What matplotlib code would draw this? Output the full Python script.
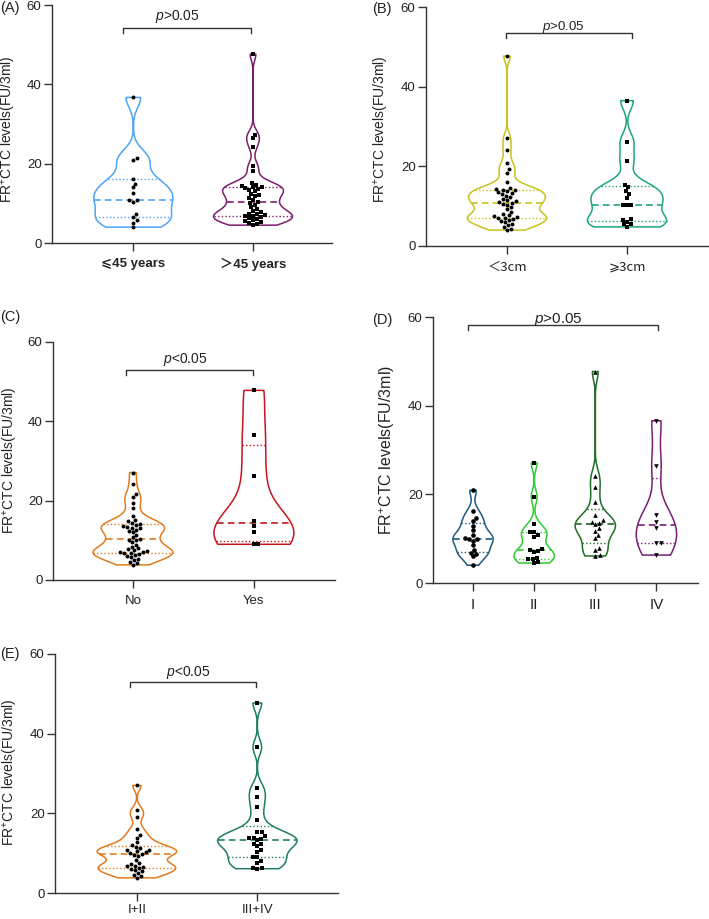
import numpy as np
import matplotlib
matplotlib.use('Agg')
import matplotlib.pyplot as plt
from matplotlib import cbook

plt.rcParams['font.family'] = ['Liberation Sans', 'DejaVu Sans', 'Noto Sans CJK SC']
plt.rcParams['mathtext.fontset'] = 'custom'
plt.rcParams['mathtext.rm'] = 'Liberation Sans'
plt.rcParams['mathtext.it'] = 'Liberation Sans:italic'

# ---- data (FR+CTC levels, FU/3ml) ----
a_labels = ['⩽45 years', '＞45 years']
a_le45 = [36.7, 21.4, 20.9, 16.1, 15.0, 14.0, 12.6, 10.8, 10.8, 10.4, 7.3, 6.5, 5.8, 5.1, 4.0]
a_gt45 = [4.5, 4.7, 5.0, 5.3, 5.5, 5.8, 6.0, 6.3, 6.5, 6.7, 6.9, 7.0, 7.2, 7.4, 7.7, 8.0,
          8.5, 9.0, 9.6, 10.0, 10.3, 10.8, 11.3, 11.8, 12.0, 12.4, 13.0, 13.4, 13.7, 13.8,
          14.0, 14.2, 14.4, 14.7, 15.2, 18.2, 19.5, 24.3, 26.4, 27.3, 47.6]

b_labels = ['＜3cm', '⩾3cm']
b_lt3 = [4.0, 4.3, 4.8, 5.2, 5.6, 6.0, 6.3, 6.6, 6.8, 7.0, 7.1, 7.3, 7.5, 7.7, 8.0, 8.5,
         9.2, 9.8, 10.3, 10.6, 10.8, 11.0, 11.2, 11.5, 11.8, 12.2, 12.6, 13.0, 13.2, 13.5,
         13.8, 14.0, 14.1, 14.3, 14.5, 16.1, 18.3, 19.3, 20.9, 24.1, 27.0, 47.7]
b_ge3 = [36.5, 26.2, 21.4, 15.3, 14.7, 13.8, 13.0, 12.0, 10.2, 10.2, 10.2, 6.7, 6.6, 6.1, 5.5, 5.4, 4.8]

c_labels = ['No', 'Yes']
c_no = [3.8, 4.2, 4.6, 5.0, 5.4, 5.8, 6.1, 6.4, 6.6, 6.8, 6.9, 7.0, 7.1, 7.3, 7.5, 7.7,
        8.0, 8.4, 8.9, 9.5, 10.0, 10.2, 10.4, 10.8, 11.4, 12.0, 12.4, 12.7, 13.0, 13.2,
        13.4, 13.6, 13.8, 14.1, 14.4, 14.8, 15.2, 16.2, 18.1, 19.5, 20.9, 21.6, 24.2, 27.1]
c_yes = [47.8, 36.6, 26.3, 15.0, 13.6, 12.0, 9.0, 9.0]

d_labels = ['I', 'II', 'III', 'IV']
d_i = [20.9, 16.3, 14.7, 14.0, 12.9, 11.9, 10.9, 10.2, 10.0, 9.9, 9.5, 8.5, 7.4, 6.8, 6.6, 6.0, 4.0]
d_ii = [27.1, 19.4, 13.2, 11.5, 11.4, 10.8, 10.4, 7.6, 7.4, 7.2, 7.0, 5.6, 5.5, 5.4, 4.7, 4.5]
d_iii = [47.7, 24.2, 21.6, 18.3, 15.3, 14.2, 13.8, 13.6, 13.3, 12.4, 11.8, 10.9, 10.2, 8.0, 7.5, 6.3, 6.1]
d_iv = [36.6, 26.4, 15.3, 13.8, 12.3, 9.0, 9.0, 6.3]

e_labels = ['I+II', 'III+IV']
e_12 = [3.8, 4.2, 4.6, 5.0, 5.4, 5.8, 6.1, 6.3, 6.5, 6.7, 6.9, 7.2, 7.6, 8.4, 9.3, 9.6,
        9.9, 10.1, 10.3, 10.5, 10.7, 10.9, 11.2, 11.6, 12.0, 12.7, 13.8, 14.6, 16.1, 19.2,
        20.8, 27.0]
e_34 = [47.7, 36.6, 26.4, 24.2, 21.6, 18.3, 15.3, 15.3, 14.2, 13.8, 13.8, 13.6, 13.3, 12.4,
        12.3, 11.8, 10.9, 10.2, 9.0, 9.0, 8.0, 7.5, 6.3, 6.3, 6.1]

W, H = 709, 919
fig = plt.figure(figsize=(W / 100, H / 100), dpi=100)
ink = '#333333'


def bandwidth(x):
    # rule-of-thumb bandwidth (a bit tighter than Silverman)
    q1, q3 = np.percentile(x, [25, 75], method='weibull')
    s = min(np.std(x, ddof=1), (q3 - q1) / 1.34)
    return 0.6 * s * len(x) ** -0.2


def kde(x, coords):
    h = bandwidth(x)
    z = (coords[:, None] - np.asarray(x)[None, :]) / h
    return np.exp(-0.5 * z ** 2).sum(axis=1)


def swarm(vals, sx, sy, d):
    # simple beeswarm, offsets worked out in pixels
    xs = np.zeros(len(vals))
    placed = []
    for i in np.argsort(vals):
        y = vals[i] * sy
        near = [(px, py) for px, py in placed if abs(py - y) < d]
        cands = [0.0]
        for px, py in near:
            dx = np.sqrt(d * d - (py - y) ** 2)
            cands += [px + dx, px - dx]
        cands.sort(key=abs)
        for c in cands:
            if all((c - px) ** 2 + (py - y) ** 2 >= d * d - 1e-6 for px, py in near):
                break
        xs[i] = c / sx
        placed.append((c, y))
    return xs


def draw_panel(box, xlim, groups, colors, markers, labels, lab_kw, br, ptxt,
               tag, tag_px, ylab, ylab_size=10, msize=8, xpad=5):
    l, r, t, b = box
    ax = fig.add_axes([l / W, 1 - b / H, (r - l) / W, (b - t) / H])
    pos = np.arange(len(groups))
    ax.set_xlim(*xlim)
    ax.set_ylim(0, 60)
    sx = (r - l) / (xlim[1] - xlim[0])
    sy = (b - t) / 60.0

    data = [np.asarray(g, float) for g in groups]
    stats = cbook.violin_stats(data, kde, points=400)
    parts = ax.violin(stats, positions=pos, widths=0.66, showextrema=False)
    for body, c in zip(parts['bodies'], colors):
        body.set_facecolor('none')
        body.set_edgecolor(c)
        body.set_linewidth(1.1)
        body.set_alpha(1)

    for p, st, g, c, m in zip(pos, stats, data, colors, markers):
        half = 0.33 * st['vals'] / st['vals'].max()
        q1, q2, q3 = np.percentile(g, [25, 50, 75], method='weibull')
        for q, ls, lw in [(q1, (0, (1, 1.6)), 1.0), (q3, (0, (1, 1.6)), 1.0),
                          (q2, (0, (4, 2.5)), 1.2)]:
            w = np.interp(q, st['coords'], half)
            ax.plot([p - w, p + w], [q, q], color=c, ls=ls, lw=lw)
        xs = swarm(g, sx, sy, 4.3)
        ax.scatter(p + xs, g, s=msize, marker=m, color='black', linewidths=0,
                   zorder=3, clip_on=False)

    # significance bracket
    x0, x1, yb = br
    tk = 5 / sy
    ax.plot([x0, x0, x1, x1], [yb - tk, yb, yb, yb - tk], color=ink, lw=1.0, clip_on=False)
    txt, tx, ty, tsize = ptxt
    ax.text(tx, ty, txt, ha='center', va='baseline', fontsize=tsize, color='#222222')

    for s in ['top', 'right']:
        ax.spines[s].set_visible(False)
    for s in ['left', 'bottom']:
        ax.spines[s].set_linewidth(1.0)
        ax.spines[s].set_color(ink)
    ax.set_yticks([0, 20, 40, 60])
    ax.set_xticks(pos)
    ax.set_xticklabels(labels, **lab_kw)
    ax.tick_params(axis='both', length=5.5, width=1.0, color=ink, labelcolor='#222222')
    ax.tick_params(axis='y', pad=2, labelsize=9.5)
    ax.tick_params(axis='x', pad=xpad)

    ax.set_ylabel('FR$^{+}$CTC levels(FU/3ml)', fontsize=ylab_size, color='#222222',
                  va='center', ha='center', rotation_mode='default')
    ax.yaxis.set_label_coords((ylab[0] - l) / (r - l), (b - ylab[1]) / (b - t))
    fig.text(tag_px[0] / W, 1 - tag_px[1] / H, tag, ha='left', va='center',
             fontsize=10.5, color='#222222')
    return ax


# (A) age
draw_panel((52, 332, 5, 243), (-0.68, 1.66), [a_le45, a_gt45], ['#4fa3f7', '#7d1d6f'],
           ['o', 's'], a_labels,
           dict(fontsize=9.5, fontweight='bold',
                family=['Liberation Sans', 'DejaVu Sans', 'Noto Sans CJK SC']),
           (-0.083, 0.98, 54.1), (r'$p$>0.05', 0.37, 56.3, 10),
           '(A)', (0, 8), (9, 129))

# (B) tumour size
draw_panel((426, 708, 7, 246), (-0.675, 1.675), [b_lt3, b_ge3], ['#c8c21a', '#1fa57a'],
           ['o', 's'], b_labels,
           dict(fontsize=9.5, family=['Noto Sans CJK SC', 'DejaVu Sans']),
           (-0.01, 1.04, 53.5), (r'$p$>0.05', 0.47, 54.2, 9.5),
           '(B)', (372, 9), (382, 129))

# (C)
draw_panel((53, 335, 342, 580), (-0.66, 1.67), [c_no, c_yes], ['#e27b1e', '#c4161f'],
           ['o', 's'], c_labels, dict(fontsize=9.5),
           (-0.055, 0.99, 52.9), (r'$p$<0.05', 0.43, 54.6, 10),
           '(C)', (0, 317), (11, 460))

# (D) stage
draw_panel((433, 698, 317, 583), (-0.655, 3.68), [d_i, d_ii, d_iii, d_iv],
           ['#1d5a7c', '#2fcb2f', '#1f6e24', '#7b1b77'], ['o', 's', '^', 'v'],
           d_labels, dict(fontsize=11),
           (-0.087, 3.02, 58.2), (r'$p$>0.05', 1.39, 58.7, 11),
           '(D)', (372, 320), (387, 450), ylab_size=11.5, msize=11)

# (E)
draw_panel((55, 338, 654, 893), (-0.68, 1.67), [e_12, e_34], ['#e27b1e', '#1f7f5c'],
           ['o', 's'], e_labels, dict(fontsize=9.5),
           (-0.061, 0.99, 53.0), (r'$p$<0.05', 0.43, 54.5, 10),
           '(E)', (0, 654), (11, 772), xpad=2.5)

fig.savefig('out.png', dpi=100)
